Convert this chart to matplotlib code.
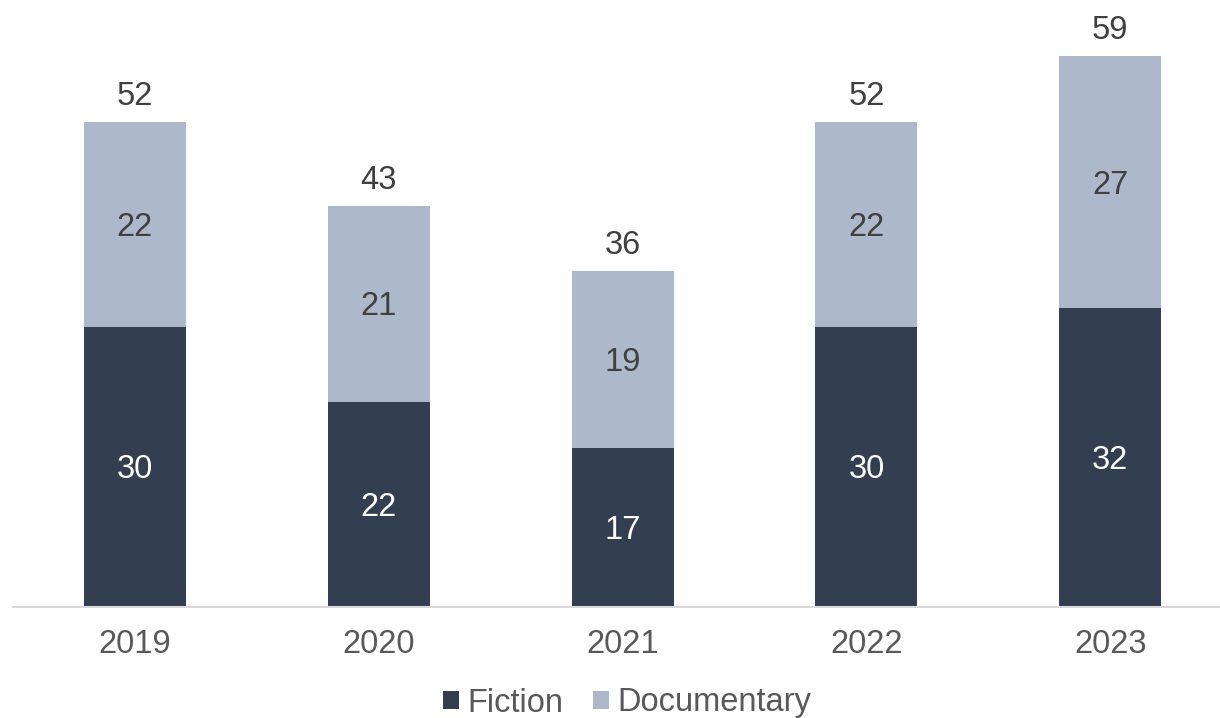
import matplotlib
matplotlib.use("Agg")
import matplotlib.pyplot as plt
import numpy as np

years = ["2019", "2020", "2021", "2022", "2023"]
fiction = [30, 22, 17, 30, 32]
documentary = [22, 21, 19, 22, 27]
totals = [52, 43, 36, 52, 59]

plt.rcParams["font.family"] = ["Liberation Sans", "DejaVu Sans"]

W, H = 1220, 718
fig = plt.figure(figsize=(W / 100, H / 100), dpi=100)
ax = fig.add_axes([13 / W, 111 / H, (W - 13) / W, 607 / H])

dark = "#333F50"
light = "#ADB9CA"
x = np.arange(len(years))
bw = 0.418
fs = 23.5

b1 = ax.bar(x, fiction, bw, color=dark, label="Fiction")
b2 = ax.bar(x, documentary, bw, bottom=fiction, color=light, label="Documentary")

for xi, f, d, t in zip(x, fiction, documentary, totals):
    ax.annotate(str(f), (xi, f / 2), xytext=(0, -2), textcoords="offset points",
                ha="center", va="center", color="white", fontsize=fs)
    ax.annotate(str(d), (xi, f + d / 2), xytext=(0, -2), textcoords="offset points",
                ha="center", va="center", color="#404040", fontsize=fs)
    ax.annotate(str(t), (xi, f + d), xytext=(0, 18.5), textcoords="offset points",
                ha="center", va="center", color="#404040", fontsize=fs)

ax.set_xlim(-0.5, 4.45)
ax.set_ylim(0, 65.05)
ax.set_xticks(x)
ax.set_xticklabels(years, fontsize=fs, color="#595959")
ax.tick_params(axis="x", length=0, pad=16)
ax.set_yticks([])
for s in ["top", "right", "left"]:
    ax.spines[s].set_visible(False)
ax.spines["bottom"].set_color("#D9D9D9")
ax.spines["bottom"].set_linewidth(1.5)

fig.legend(handles=[b1, b2], loc="center", bbox_to_anchor=(627 / W, 1 - 703 / H),
           ncol=2, frameon=False, fontsize=fs, handlelength=0.5, handleheight=0.5,
           handletextpad=0.25, columnspacing=0.9, borderpad=0.1,
           labelcolor="#595959")

fig.savefig("out.png", dpi=100)
